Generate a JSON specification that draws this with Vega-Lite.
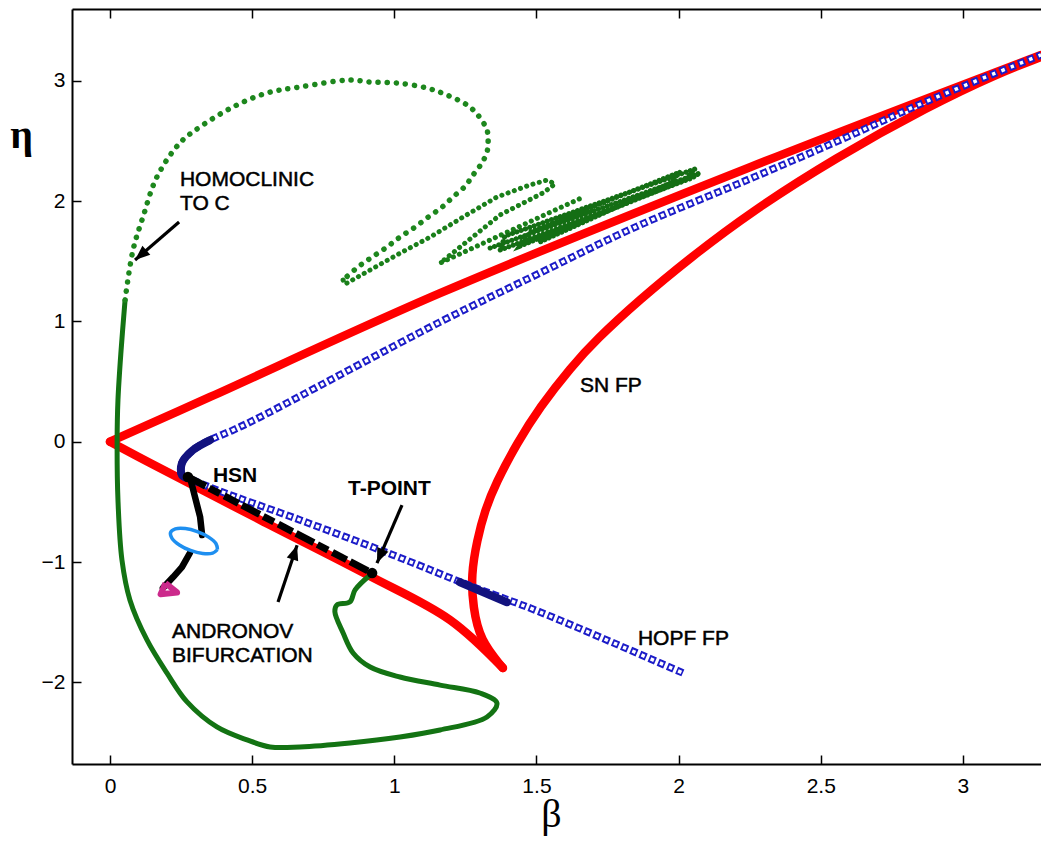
{
  "$schema": "https://vega.github.io/schema/vega-lite/v6.json",
  "width": 969,
  "height": 755,
  "autosize": "none",
  "padding": {"left": 72, "top": 9, "right": 0, "bottom": 90},
  "background": "white",
  "config": {
    "view": {"stroke": null},
    "font": "Liberation Sans",
    "axis": {"grid": false}
  },
  "resolve": {"axis": {"x": "independent", "y": "independent"}},
  "datasets": {
    "curves": [
      {"curve": "sn_upper", "seq": 1, "beta": 0.0, "eta": 0.0},
      {"curve": "sn_upper", "seq": 2, "beta": 0.352, "eta": 0.372},
      {"curve": "sn_upper", "seq": 3, "beta": 1.161, "eta": 1.235},
      {"curve": "sn_upper", "seq": 4, "beta": 2.251, "eta": 2.282},
      {"curve": "sn_upper", "seq": 5, "beta": 3.275, "eta": 3.215},

      {"curve": "sn_lower", "seq": 1, "beta": 0.0, "eta": 0.0},
      {"curve": "sn_lower", "seq": 2, "beta": 0.141, "eta": -0.177},
      {"curve": "sn_lower", "seq": 3, "beta": 0.528, "eta": -0.65},
      {"curve": "sn_lower", "seq": 4, "beta": 0.907, "eta": -1.108},
      {"curve": "sn_lower", "seq": 5, "beta": 1.196, "eta": -1.482},
      {"curve": "sn_lower", "seq": 6, "beta": 1.382, "eta": -1.881},

      {"curve": "sn_right", "seq": 1, "beta": 1.382, "eta": -1.881},
      {"curve": "sn_right", "seq": 2, "beta": 1.301, "eta": -1.648},
      {"curve": "sn_right", "seq": 3, "beta": 1.277, "eta": -1.374},
      {"curve": "sn_right", "seq": 4, "beta": 1.27, "eta": -1.108},
      {"curve": "sn_right", "seq": 5, "beta": 1.291, "eta": -0.817},
      {"curve": "sn_right", "seq": 6, "beta": 1.319, "eta": -0.568},
      {"curve": "sn_right", "seq": 7, "beta": 1.357, "eta": -0.343},
      {"curve": "sn_right", "seq": 8, "beta": 1.432, "eta": -0.011},
      {"curve": "sn_right", "seq": 9, "beta": 1.512, "eta": 0.289},
      {"curve": "sn_right", "seq": 10, "beta": 1.622, "eta": 0.621},
      {"curve": "sn_right", "seq": 11, "beta": 1.709, "eta": 0.846},
      {"curve": "sn_right", "seq": 12, "beta": 1.861, "eta": 1.178},
      {"curve": "sn_right", "seq": 13, "beta": 2.044, "eta": 1.535},
      {"curve": "sn_right", "seq": 14, "beta": 2.251, "eta": 1.905},
      {"curve": "sn_right", "seq": 15, "beta": 2.55, "eta": 2.358},
      {"curve": "sn_right", "seq": 16, "beta": 2.881, "eta": 2.79},
      {"curve": "sn_right", "seq": 17, "beta": 3.124, "eta": 3.062},
      {"curve": "sn_right", "seq": 18, "beta": 3.275, "eta": 3.198},

      {"curve": "hopf", "seq": 1, "beta": 2.015, "eta": -1.922},
      {"curve": "hopf", "seq": 2, "beta": 1.512, "eta": -1.415},
      {"curve": "hopf", "seq": 3, "beta": 1.277, "eta": -1.207},
      {"curve": "hopf", "seq": 4, "beta": 0.995, "eta": -0.941},
      {"curve": "hopf", "seq": 5, "beta": 0.668, "eta": -0.65},
      {"curve": "hopf", "seq": 6, "beta": 0.376, "eta": -0.401},
      {"curve": "hopf", "seq": 7, "beta": 0.274, "eta": -0.302},
      {"curve": "hopf", "seq": 8, "beta": 0.253, "eta": -0.277},
      {"curve": "hopf", "seq": 9, "beta": 0.253, "eta": -0.177},
      {"curve": "hopf", "seq": 10, "beta": 0.292, "eta": -0.069},
      {"curve": "hopf", "seq": 11, "beta": 0.352, "eta": 0.014},
      {"curve": "hopf", "seq": 12, "beta": 0.433, "eta": 0.097},
      {"curve": "hopf", "seq": 13, "beta": 0.528, "eta": 0.205},
      {"curve": "hopf", "seq": 14, "beta": 1.161, "eta": 0.995},
      {"curve": "hopf", "seq": 15, "beta": 1.512, "eta": 1.402},
      {"curve": "hopf", "seq": 16, "beta": 1.84, "eta": 1.776},
      {"curve": "hopf", "seq": 17, "beta": 2.241, "eta": 2.175},
      {"curve": "hopf", "seq": 18, "beta": 2.568, "eta": 2.508},
      {"curve": "hopf", "seq": 19, "beta": 2.884, "eta": 2.841},
      {"curve": "hopf", "seq": 20, "beta": 3.275, "eta": 3.215},

      {"curve": "hopf_dense", "seq": 1, "beta": 0.274, "eta": -0.302},
      {"curve": "hopf_dense", "seq": 2, "beta": 0.253, "eta": -0.277},
      {"curve": "hopf_dense", "seq": 3, "beta": 0.253, "eta": -0.177},
      {"curve": "hopf_dense", "seq": 4, "beta": 0.292, "eta": -0.069},
      {"curve": "hopf_dense", "seq": 5, "beta": 0.352, "eta": 0.014},
      {"curve": "hopf_dense2", "seq": 1, "beta": 1.231, "eta": -1.168},
      {"curve": "hopf_dense2", "seq": 2, "beta": 1.396, "eta": -1.334},

      {"curve": "homoclinic_solid", "seq": 1, "beta": 0.915, "eta": -1.108},
      {"curve": "homoclinic_solid", "seq": 2, "beta": 0.862, "eta": -1.232},
      {"curve": "homoclinic_solid", "seq": 3, "beta": 0.844, "eta": -1.332},
      {"curve": "homoclinic_solid", "seq": 4, "beta": 0.798, "eta": -1.357},
      {"curve": "homoclinic_solid", "seq": 5, "beta": 0.791, "eta": -1.415},
      {"curve": "homoclinic_solid", "seq": 6, "beta": 0.82, "eta": -1.59},
      {"curve": "homoclinic_solid", "seq": 7, "beta": 0.855, "eta": -1.756},
      {"curve": "homoclinic_solid", "seq": 8, "beta": 0.915, "eta": -1.873},
      {"curve": "homoclinic_solid", "seq": 9, "beta": 1.02, "eta": -1.956},
      {"curve": "homoclinic_solid", "seq": 10, "beta": 1.161, "eta": -2.023},
      {"curve": "homoclinic_solid", "seq": 11, "beta": 1.301, "eta": -2.089},
      {"curve": "homoclinic_solid", "seq": 12, "beta": 1.361, "eta": -2.172},
      {"curve": "homoclinic_solid", "seq": 13, "beta": 1.326, "eta": -2.288},
      {"curve": "homoclinic_solid", "seq": 14, "beta": 1.161, "eta": -2.396},
      {"curve": "homoclinic_solid", "seq": 15, "beta": 1.02, "eta": -2.454},
      {"curve": "homoclinic_solid", "seq": 16, "beta": 0.844, "eta": -2.504},
      {"curve": "homoclinic_solid", "seq": 17, "beta": 0.668, "eta": -2.537},
      {"curve": "homoclinic_solid", "seq": 18, "beta": 0.563, "eta": -2.537},
      {"curve": "homoclinic_solid", "seq": 19, "beta": 0.482, "eta": -2.479},
      {"curve": "homoclinic_solid", "seq": 20, "beta": 0.376, "eta": -2.371},
      {"curve": "homoclinic_solid", "seq": 21, "beta": 0.271, "eta": -2.163},
      {"curve": "homoclinic_solid", "seq": 22, "beta": 0.2, "eta": -1.922},
      {"curve": "homoclinic_solid", "seq": 23, "beta": 0.13, "eta": -1.648},
      {"curve": "homoclinic_solid", "seq": 24, "beta": 0.07, "eta": -1.315},
      {"curve": "homoclinic_solid", "seq": 25, "beta": 0.042, "eta": -0.983},
      {"curve": "homoclinic_solid", "seq": 26, "beta": 0.028, "eta": -0.485},
      {"curve": "homoclinic_solid", "seq": 27, "beta": 0.025, "eta": 0.006},
      {"curve": "homoclinic_solid", "seq": 28, "beta": 0.028, "eta": 0.347},
      {"curve": "homoclinic_solid", "seq": 29, "beta": 0.039, "eta": 0.762},
      {"curve": "homoclinic_solid", "seq": 30, "beta": 0.053, "eta": 1.178},

      {"curve": "homoclinic_dotted", "seq": 1, "beta": 0.053, "eta": 1.178},
      {"curve": "homoclinic_dotted", "seq": 2, "beta": 0.081, "eta": 1.594},
      {"curve": "homoclinic_dotted", "seq": 3, "beta": 0.116, "eta": 1.868},
      {"curve": "homoclinic_dotted", "seq": 4, "beta": 0.165, "eta": 2.201},
      {"curve": "homoclinic_dotted", "seq": 5, "beta": 0.246, "eta": 2.484},
      {"curve": "homoclinic_dotted", "seq": 6, "beta": 0.317, "eta": 2.617},
      {"curve": "homoclinic_dotted", "seq": 7, "beta": 0.433, "eta": 2.783},
      {"curve": "homoclinic_dotted", "seq": 8, "beta": 0.552, "eta": 2.899},
      {"curve": "homoclinic_dotted", "seq": 9, "beta": 0.668, "eta": 2.949},
      {"curve": "homoclinic_dotted", "seq": 10, "beta": 0.844, "eta": 3.007},
      {"curve": "homoclinic_dotted", "seq": 11, "beta": 0.915, "eta": 2.99},
      {"curve": "homoclinic_dotted", "seq": 12, "beta": 1.009, "eta": 2.982},
      {"curve": "homoclinic_dotted", "seq": 13, "beta": 1.115, "eta": 2.94},
      {"curve": "homoclinic_dotted", "seq": 14, "beta": 1.185, "eta": 2.882},
      {"curve": "homoclinic_dotted", "seq": 15, "beta": 1.256, "eta": 2.799},
      {"curve": "homoclinic_dotted", "seq": 16, "beta": 1.294, "eta": 2.716},
      {"curve": "homoclinic_dotted", "seq": 17, "beta": 1.326, "eta": 2.591},
      {"curve": "homoclinic_dotted", "seq": 18, "beta": 1.33, "eta": 2.491},
      {"curve": "homoclinic_dotted", "seq": 19, "beta": 1.326, "eta": 2.408},
      {"curve": "homoclinic_dotted", "seq": 20, "beta": 1.308, "eta": 2.317},
      {"curve": "homoclinic_dotted", "seq": 21, "beta": 1.277, "eta": 2.217},
      {"curve": "homoclinic_dotted", "seq": 22, "beta": 1.249, "eta": 2.124},
      {"curve": "homoclinic_dotted", "seq": 23, "beta": 1.206, "eta": 2.033},
      {"curve": "homoclinic_dotted", "seq": 24, "beta": 1.168, "eta": 1.95},
      {"curve": "homoclinic_dotted", "seq": 25, "beta": 1.119, "eta": 1.867},
      {"curve": "homoclinic_dotted", "seq": 26, "beta": 1.073, "eta": 1.784},
      {"curve": "homoclinic_dotted", "seq": 27, "beta": 1.02, "eta": 1.701},
      {"curve": "homoclinic_dotted", "seq": 28, "beta": 0.974, "eta": 1.618},
      {"curve": "homoclinic_dotted", "seq": 29, "beta": 0.922, "eta": 1.535},
      {"curve": "homoclinic_dotted", "seq": 30, "beta": 0.872, "eta": 1.452},
      {"curve": "homoclinic_dotted", "seq": 31, "beta": 0.82, "eta": 1.344},

      {"curve": "homoclinic_spiral", "seq": 1, "beta": 0.82, "eta": 1.344},
      {"curve": "homoclinic_spiral", "seq": 2, "beta": 0.827, "eta": 1.31},
      {"curve": "homoclinic_spiral", "seq": 3, "beta": 1.02, "eta": 1.567},
      {"curve": "homoclinic_spiral", "seq": 4, "beta": 1.126, "eta": 1.701},
      {"curve": "homoclinic_spiral", "seq": 5, "beta": 1.242, "eta": 1.868},
      {"curve": "homoclinic_spiral", "seq": 6, "beta": 1.361, "eta": 2.034},
      {"curve": "homoclinic_spiral", "seq": 7, "beta": 1.477, "eta": 2.134},
      {"curve": "homoclinic_spiral", "seq": 8, "beta": 1.537, "eta": 2.175},
      {"curve": "homoclinic_spiral", "seq": 9, "beta": 1.565, "eta": 2.142},
      {"curve": "homoclinic_spiral", "seq": 10, "beta": 1.523, "eta": 2.068},
      {"curve": "homoclinic_spiral", "seq": 11, "beta": 1.372, "eta": 1.885},
      {"curve": "homoclinic_spiral", "seq": 12, "beta": 1.161, "eta": 1.485},
      {"curve": "homoclinic_spiral", "seq": 13, "beta": 1.664, "eta": 2.033},

      {"curve": "homoclinic_band", "seq": 1, "beta": 1.337, "eta": 1.61},
      {"curve": "homoclinic_band", "seq": 2, "beta": 2.075, "eta": 2.234},
      {"curve": "homoclinic_band", "seq": 3, "beta": 2.047, "eta": 2.192},
      {"curve": "homoclinic_band", "seq": 4, "beta": 1.372, "eta": 1.593},
      {"curve": "homoclinic_band", "seq": 5, "beta": 1.389, "eta": 1.709},
      {"curve": "homoclinic_band", "seq": 6, "beta": 2.058, "eta": 2.267},
      {"curve": "homoclinic_band", "seq": 7, "beta": 2.022, "eta": 2.175},
      {"curve": "homoclinic_band", "seq": 8, "beta": 1.442, "eta": 1.626},
      {"curve": "homoclinic_band", "seq": 9, "beta": 1.477, "eta": 1.743},
      {"curve": "homoclinic_band", "seq": 10, "beta": 2.005, "eta": 2.242},
      {"curve": "homoclinic_band", "seq": 11, "beta": 1.97, "eta": 2.15},
      {"curve": "homoclinic_band", "seq": 12, "beta": 1.512, "eta": 1.66},

      {"curve": "andronov", "seq": 1, "beta": 0.274, "eta": -0.293},
      {"curve": "andronov", "seq": 2, "beta": 0.922, "eta": -1.092},
      {"curve": "andronov_branch", "seq": 1, "beta": 0.281, "eta": -0.293},
      {"curve": "andronov_branch", "seq": 2, "beta": 0.299, "eta": -0.46},
      {"curve": "andronov_branch", "seq": 3, "beta": 0.317, "eta": -0.626},
      {"curve": "andronov_branch", "seq": 4, "beta": 0.324, "eta": -0.776},
      {"curve": "andronov_tail", "seq": 1, "beta": 0.281, "eta": -0.925},
      {"curve": "andronov_tail", "seq": 2, "beta": 0.253, "eta": -1.042},
      {"curve": "andronov_tail", "seq": 3, "beta": 0.222, "eta": -1.125},
      {"curve": "andronov_tail", "seq": 4, "beta": 0.186, "eta": -1.216},

      {"curve": "cycle", "seq": 1, "beta": 0.378, "eta": -0.897},
      {"curve": "cycle", "seq": 2, "beta": 0.361, "eta": -0.926},
      {"curve": "cycle", "seq": 3, "beta": 0.326, "eta": -0.929},
      {"curve": "cycle", "seq": 4, "beta": 0.283, "eta": -0.904},
      {"curve": "cycle", "seq": 5, "beta": 0.244, "eta": -0.858},
      {"curve": "cycle", "seq": 6, "beta": 0.218, "eta": -0.803},
      {"curve": "cycle", "seq": 7, "beta": 0.213, "eta": -0.754},
      {"curve": "cycle", "seq": 8, "beta": 0.23, "eta": -0.725},
      {"curve": "cycle", "seq": 9, "beta": 0.265, "eta": -0.722},
      {"curve": "cycle", "seq": 10, "beta": 0.307, "eta": -0.747},
      {"curve": "cycle", "seq": 11, "beta": 0.347, "eta": -0.793},
      {"curve": "cycle", "seq": 12, "beta": 0.373, "eta": -0.848},
      {"curve": "cycle", "seq": 13, "beta": 0.378, "eta": -0.897},

      {"curve": "endpoint", "seq": 1, "beta": 0.195, "eta": -1.175},
      {"curve": "endpoint", "seq": 2, "beta": 0.178, "eta": -1.268},
      {"curve": "endpoint", "seq": 3, "beta": 0.236, "eta": -1.253},
      {"curve": "endpoint", "seq": 4, "beta": 0.195, "eta": -1.175}
    ],
    "special": [
      {"name": "HSN", "beta": 0.274, "eta": -0.293},
      {"name": "T-POINT", "beta": 0.922, "eta": -1.092}
    ],
    "arrows": [
      {"name": "homoclinic", "beta": 0.088, "eta": 1.51, "beta2": 0.243, "eta2": 1.826},
      {"name": "andronov", "beta": 0.658, "eta": -0.86, "beta2": 0.591, "eta2": -1.333},
      {"name": "tpoint", "beta": 0.939, "eta": -1.009, "beta2": 1.027, "eta2": -0.527}
    ],
    "labels": [
      {"text": "HOMOCLINIC\nTO  C", "beta": 0.246, "eta": 2.126},
      {"text": "ANDRONOV\nBIFURCATION", "beta": 0.218, "eta": -1.632},
      {"text": "SN  FP", "beta": 1.653, "eta": 0.413},
      {"text": "HOPF  FP", "beta": 1.857, "eta": -1.689},
      {"text": "HSN", "beta": 0.362, "eta": -0.335},
      {"text": "T-POINT", "beta": 0.837, "eta": -0.443}
    ]
  },
  "encoding": {
    "x": {
      "field": "beta",
      "type": "quantitative",
      "scale": {"domain": [-0.1337, 3.2747], "nice": false, "zero": false},
      "axis": null
    },
    "y": {
      "field": "eta",
      "type": "quantitative",
      "scale": {"domain": [-2.679, 3.597], "nice": false, "zero": false},
      "axis": null
    }
  },
  "layer": [
    {
      "data": {"name": "curves"},
      "transform": [{"filter": "datum.curve === 'sn_upper' || datum.curve === 'sn_lower'"}],
      "mark": {"type": "line", "color": "#ff0000", "strokeWidth": 8.5, "strokeJoin": "round", "strokeCap": "round", "interpolate": "catmull-rom", "clip": true},
      "encoding": {
        "detail": {"field": "curve"},
        "order": {"field": "seq", "type": "quantitative"},
        "x": {
          "field": "beta",
          "type": "quantitative",
          "axis": {
            "orient": "bottom",
            "title": "β",
            "values": [0, 0.5, 1, 1.5, 2, 2.5, 3],
            "format": "~g",
            "ticks": false,
            "labelFont": "Liberation Sans",
            "labelFontSize": 21,
            "labelColor": "black",
            "labelPadding": 11,
            "domainColor": "black",
            "domainWidth": 2,
            "titleFont": "Liberation Serif",
            "titleFontSize": 40,
            "titleFontWeight": "normal",
            "titleColor": "black",
            "titleX": 479,
            "titleY": 62,
            "titleAlign": "center",
            "titleBaseline": "alphabetic"
          }
        }
      }
    },
    {
      "data": {"name": "curves"},
      "transform": [{"filter": "datum.curve === 'sn_right'"}],
      "mark": {"type": "line", "color": "#ff0000", "strokeWidth": 8.5, "strokeJoin": "round", "strokeCap": "round", "interpolate": "basis", "clip": true},
      "encoding": {"order": {"field": "seq", "type": "quantitative"}}
    },
    {
      "data": {"name": "curves"},
      "transform": [{"filter": "datum.curve === 'hopf'"}],
      "mark": {"type": "line", "color": "#1c1cc8", "strokeWidth": 7.5, "strokeDash": [7, 3], "interpolate": "catmull-rom", "clip": true},
      "encoding": {
        "order": {"field": "seq", "type": "quantitative"},
        "x": {
          "field": "beta",
          "type": "quantitative",
          "axis": {
            "orient": "bottom",
            "title": null,
            "values": [0, 0.5, 1, 1.5, 2, 2.5, 3],
            "domain": false,
            "labels": false,
            "ticks": true,
            "tickSize": 9,
            "offset": -9,
            "tickColor": "black",
            "tickWidth": 1.5
          }
        }
      }
    },
    {
      "data": {"name": "curves"},
      "transform": [{"filter": "datum.curve === 'hopf'"}],
      "mark": {"type": "line", "color": "white", "strokeWidth": 3.5, "strokeDash": [3.5, 6.5], "strokeDashOffset": -1.75, "interpolate": "catmull-rom", "clip": true},
      "encoding": {
        "order": {"field": "seq", "type": "quantitative"},
        "x": {
          "field": "beta",
          "type": "quantitative",
          "axis": {
            "orient": "top",
            "title": null,
            "domain": true,
            "labels": false,
            "ticks": false,
            "domainColor": "black",
            "domainWidth": 2
          }
        }
      }
    },
    {
      "data": {"name": "curves"},
      "transform": [{"filter": "datum.curve === 'hopf_dense' || datum.curve === 'hopf_dense2'"}],
      "mark": {"type": "line", "color": "#12127e", "strokeWidth": 8, "strokeJoin": "round", "strokeCap": "round", "interpolate": "catmull-rom"},
      "encoding": {
        "detail": {"field": "curve"},
        "order": {"field": "seq", "type": "quantitative"},
        "x": {
          "field": "beta",
          "type": "quantitative",
          "axis": {
            "orient": "top",
            "title": null,
            "values": [0, 0.5, 1, 1.5, 2, 2.5, 3],
            "domain": false,
            "labels": false,
            "ticks": true,
            "tickSize": 9,
            "offset": -9,
            "tickColor": "black",
            "tickWidth": 1.5
          }
        }
      }
    },
    {
      "data": {"name": "curves"},
      "transform": [{"filter": "datum.curve === 'homoclinic_solid'"}],
      "mark": {"type": "line", "color": "#137313", "strokeWidth": 5, "strokeJoin": "round", "strokeCap": "round", "interpolate": "catmull-rom"},
      "encoding": {
        "order": {"field": "seq", "type": "quantitative"},
        "y": {
          "field": "eta",
          "type": "quantitative",
          "axis": {
            "orient": "left",
            "title": "η",
            "values": [-2, -1, 0, 1, 2, 3],
            "format": "~g",
            "ticks": false,
            "labelFont": "Liberation Sans",
            "labelFontSize": 21,
            "labelColor": "black",
            "labelPadding": 7,
            "domainColor": "black",
            "domainWidth": 2,
            "titleFont": "Liberation Serif",
            "titleFontSize": 40,
            "titleFontWeight": "bold",
            "titleColor": "black",
            "titleAngle": 0,
            "titleX": -51,
            "titleY": 138,
            "titleAlign": "center",
            "titleBaseline": "alphabetic"
          }
        }
      }
    },
    {
      "data": {"name": "curves"},
      "transform": [{"filter": "datum.curve === 'homoclinic_dotted'"}],
      "mark": {"type": "line", "color": "#1d871d", "strokeWidth": 5.5, "strokeDash": [0.1, 9], "strokeCap": "round", "interpolate": "catmull-rom"},
      "encoding": {
        "order": {"field": "seq", "type": "quantitative"},
        "y": {
          "field": "eta",
          "type": "quantitative",
          "axis": {
            "orient": "left",
            "title": null,
            "values": [-2, -1, 0, 1, 2, 3],
            "domain": false,
            "labels": false,
            "ticks": true,
            "tickSize": 9,
            "offset": -9,
            "tickColor": "black",
            "tickWidth": 1.5
          }
        }
      }
    },
    {
      "data": {"name": "curves"},
      "transform": [{"filter": "datum.curve === 'homoclinic_spiral'"}],
      "mark": {"type": "line", "color": "#1a7f1a", "strokeWidth": 5, "strokeDash": [0.1, 6.5], "strokeCap": "round"},
      "encoding": {"order": {"field": "seq", "type": "quantitative"}}
    },
    {
      "data": {"name": "curves"},
      "transform": [{"filter": "datum.curve === 'homoclinic_band'"}],
      "mark": {"type": "line", "color": "#146e14", "strokeWidth": 5, "strokeDash": [0.1, 4.5], "strokeCap": "round"},
      "encoding": {"order": {"field": "seq", "type": "quantitative"}}
    },
    {
      "data": {"name": "curves"},
      "transform": [{"filter": "datum.curve === 'andronov'"}],
      "mark": {"type": "line", "color": "black", "strokeWidth": 7, "strokeDash": [20, 4, 12, 5, 16, 4]},
      "encoding": {"order": {"field": "seq", "type": "quantitative"}}
    },
    {
      "data": {"name": "curves"},
      "transform": [{"filter": "datum.curve === 'andronov_branch' || datum.curve === 'andronov_tail'"}],
      "mark": {"type": "line", "color": "black", "strokeWidth": 6.5, "strokeJoin": "round", "strokeCap": "round"},
      "encoding": {
        "detail": {"field": "curve"},
        "order": {"field": "seq", "type": "quantitative"}
      }
    },
    {
      "data": {"name": "curves"},
      "transform": [{"filter": "datum.curve === 'cycle'"}],
      "mark": {"type": "line", "color": "#1e8ff0", "strokeWidth": 3.5, "strokeJoin": "round", "interpolate": "catmull-rom"},
      "encoding": {"order": {"field": "seq", "type": "quantitative"}}
    },
    {
      "data": {"name": "curves"},
      "transform": [{"filter": "datum.curve === 'endpoint'"}],
      "mark": {"type": "line", "color": "#cc2a8c", "strokeWidth": 6, "strokeJoin": "round"},
      "encoding": {"order": {"field": "seq", "type": "quantitative"}}
    },
    {
      "data": {"name": "special"},
      "mark": {"type": "point", "shape": "circle", "filled": true, "color": "black", "size": 110, "opacity": 1}
    },
    {
      "data": {"name": "arrows"},
      "mark": {"type": "rule", "color": "black", "strokeWidth": 3.2},
      "encoding": {
        "x2": {"field": "beta2"},
        "y2": {"field": "eta2"}
      }
    },
    {
      "data": {"name": "arrows"},
      "transform": [{"filter": "datum.name === 'homoclinic'"}],
      "mark": {"type": "point", "shape": "M0,0L-0.4,1L0.4,1Z", "filled": true, "color": "black", "opacity": 1, "size": 900, "angle": 229}
    },
    {
      "data": {"name": "arrows"},
      "transform": [{"filter": "datum.name === 'andronov'"}],
      "mark": {"type": "point", "shape": "M0,0L-0.4,1L0.4,1Z", "filled": true, "color": "black", "opacity": 1, "size": 900, "angle": 18}
    },
    {
      "data": {"name": "arrows"},
      "transform": [{"filter": "datum.name === 'tpoint'"}],
      "mark": {"type": "point", "shape": "M0,0L-0.4,1L0.4,1Z", "filled": true, "color": "black", "opacity": 1, "size": 900, "angle": 203}
    },
    {
      "data": {"name": "labels"},
      "transform": [{"filter": "datum.text !== 'HSN' && datum.text !== 'T-POINT'"}],
      "mark": {"type": "text", "align": "left", "baseline": "alphabetic", "font": "Liberation Sans", "fontSize": 21, "lineBreak": "\n", "lineHeight": 24, "color": "black", "stroke": "black", "strokeWidth": 0.5},
      "encoding": {"text": {"field": "text"}}
    },
    {
      "data": {"name": "labels"},
      "transform": [{"filter": "datum.text === 'HSN' || datum.text === 'T-POINT'"}],
      "mark": {"type": "text", "align": "left", "baseline": "alphabetic", "font": "Liberation Sans", "fontSize": 21, "fontWeight": "bold", "color": "black"},
      "encoding": {"text": {"field": "text"}}
    }
  ]
}
